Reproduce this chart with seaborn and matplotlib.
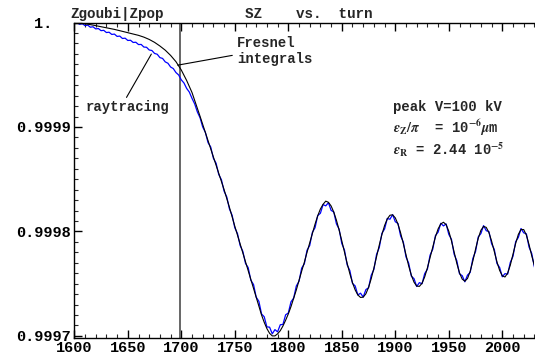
import numpy as np
import pandas as pd
import seaborn as sns
import matplotlib.pyplot as plt
from matplotlib.ticker import MultipleLocator

# ---- data ----
turns = np.arange(1600, 2030.01, 2.5)

sz_fresnel = [
    1.0, 0.9999997, 0.9999995, 0.9999992, 0.9999988, 0.9999984, 0.999998, 0.9999975,
    0.999997, 0.9999965, 0.999996, 0.9999955, 0.999995, 0.9999945, 0.999994, 0.9999934,
    0.9999928, 0.9999922, 0.9999915, 0.9999909, 0.9999902, 0.9999896, 0.999989, 0.9999884,
    0.9999877, 0.9999869, 0.999986, 0.9999849, 0.9999838, 0.9999824, 0.999981, 0.9999793,
    0.9999775, 0.9999755, 0.9999735, 0.999971, 0.9999685, 0.9999655, 0.9999625, 0.9999585,
    0.9999545, 0.9999495, 0.9999445, 0.9999388, 0.999933, 0.9999255, 0.999918, 0.9999103,
    0.9999025, 0.9998948, 0.999887, 0.9998793, 0.9998715, 0.9998638, 0.999856, 0.999848,
    0.99984, 0.9998315, 0.999823, 0.999814, 0.999805, 0.9997965, 0.999788, 0.9997795,
    0.999771, 0.9997625, 0.999754, 0.9997455, 0.999737, 0.9997285, 0.99972, 0.999713,
    0.999707, 0.9997025, 0.9997, 0.9997, 0.999702, 0.999705, 0.9997095, 0.999715,
    0.999721, 0.999728, 0.999736, 0.999744, 0.999753, 0.999762, 0.9997705, 0.99978,
    0.999789, 0.999798, 0.999807, 0.999815, 0.9998215, 0.999826, 0.999829, 0.9998279,
    0.9998244, 0.9998185, 0.9998107, 0.9998013, 0.999791, 0.9997802, 0.9997695, 0.9997596,
    0.9997509, 0.999744, 0.9997392, 0.9997368, 0.9997371, 0.9997403, 0.9997464, 0.9997548,
    0.9997649, 0.9997759, 0.9997869, 0.9997971, 0.9998057, 0.999812, 0.9998155, 0.9998159,
    0.999813, 0.999807, 0.9997985, 0.9997883, 0.9997775, 0.999767, 0.9997581, 0.9997514,
    0.9997477, 0.9997474, 0.9997504, 0.9997566, 0.9997651, 0.9997751, 0.9997853, 0.9997948,
    0.9998024, 0.9998072, 0.9998088, 0.9998065, 0.9998002, 0.999791, 0.9997801, 0.9997694,
    0.9997604, 0.9997544, 0.9997524, 0.999755, 0.9997619, 0.9997718, 0.999783, 0.9997934,
    0.9998011, 0.9998048, 0.9998039, 0.9997989, 0.9997908, 0.9997809, 0.9997709, 0.9997627,
    0.9997575, 0.9997564, 0.9997601, 0.9997678, 0.9997781, 0.9997886, 0.9997972, 0.9998019,
    0.9998018, 0.9997965, 0.9997874, 0.9997768, 0.9997673,
]

sz_raytracing = [
    1.0, 0.9999998, 0.9999983, 0.9999989, 0.999997, 0.9999975, 0.9999955, 0.9999959,
    0.9999939, 0.9999942, 0.9999922, 0.9999925, 0.9999904, 0.9999907, 0.9999886, 0.9999889,
    0.9999867, 0.999987, 0.9999847, 0.999985, 0.9999828, 0.999983, 0.9999809, 0.9999811,
    0.9999789, 0.999979, 0.9999765, 0.9999763, 0.9999737, 0.9999732, 0.9999704, 0.9999696,
    0.9999664, 0.9999656, 0.9999623, 0.999961, 0.9999574, 0.9999559, 0.9999521, 0.9999498,
    0.9999451, 0.9999421, 0.9999369, 0.9999334, 0.9999274, 0.9999221, 0.9999144, 0.9999089,
    0.9999, 0.9998948, 0.999885, 0.9998808, 0.99987, 0.9998653, 0.9998545, 0.9998495,
    0.9998385, 0.999833, 0.9998215, 0.9998155, 0.9998035, 0.999798, 0.9997865, 0.999781,
    0.9997694, 0.9997654, 0.9997533, 0.9997492, 0.9997371, 0.9997331, 0.999721, 0.9997183,
    0.9997086, 0.9997084, 0.999702, 0.999706, 0.9997039, 0.9997107, 0.999711, 0.9997202,
    0.9997219, 0.9997326, 0.9997362, 0.9997478, 0.9997523, 0.9997649, 0.999769, 0.999782,
    0.9997865, 0.9997991, 0.9998036, 0.9998152, 0.9998174, 0.9998257, 0.9998245, 0.9998275,
    0.9998202, 0.9998186, 0.9998072, 0.9998022, 0.9997884, 0.9997822, 0.999768, 0.9997626,
    0.9997503, 0.9997478, 0.9997392, 0.9997409, 0.9997372, 0.9997443, 0.9997461, 0.999758,
    0.9997636, 0.9997781, 0.9997845, 0.9997982, 0.9998024, 0.9998124, 0.9998117, 0.9998161,
    0.9998093, 0.9998076, 0.9997956, 0.9997899, 0.9997756, 0.9997696, 0.9997572, 0.9997548,
    0.9997473, 0.999751, 0.9997499, 0.9997597, 0.9997638, 0.9997773, 0.999783, 0.999796,
    0.9997993, 0.9998078, 0.9998053, 0.9998072, 0.9997972, 0.9997924, 0.9997781, 0.9997719,
    0.9997594, 0.9997577, 0.9997518, 0.9997582, 0.9997608, 0.9997742, 0.9997808, 0.9997947,
    0.999798, 0.9998056, 0.9998007, 0.9997999, 0.9997882, 0.9997829, 0.9997693, 0.9997655,
    0.9997566, 0.9997596, 0.9997591, 0.9997704, 0.9997762, 0.9997902, 0.9997943, 0.9998028,
    0.9997987, 0.9997977, 0.999785, 0.9997789, 0.9997659,
]

x_ticks = [1600, 1650, 1700, 1750, 1800, 1850, 1900, 1950, 2000]
y_ticks = [0.9997, 0.9998, 0.9999, 1.0]
y_tick_labels = ["0.9997", "0.9998", "0.9999", "1.  "]
marker_turn = 1698.5

# ---- style ----
sns.set_style("ticks")
plt.rcParams['font.family'] = ['Liberation Mono', 'DejaVu Sans']
plt.rcParams['font.weight'] = 'bold'
plt.rcParams['mathtext.fontset'] = 'stix'

fig = plt.figure(figsize=(5.35, 3.6), dpi=100)
ax = fig.add_axes([74.3 / 535, 22 / 360, (534.4 - 74.3) / 535, (337.5 - 22) / 360])

df_f = pd.DataFrame({"turn": turns, "SZ": sz_fresnel})
df_r = pd.DataFrame({"turn": turns, "SZ": sz_raytracing})

sns.lineplot(data=df_r, x="turn", y="SZ", color="#0000ff", lw=0.9,
             estimator=None, sort=False, ax=ax)
sns.lineplot(data=df_f, x="turn", y="SZ", color="black", lw=0.8,
             estimator=None, sort=False, ax=ax)

ax.axvline(marker_turn, color="#666666", lw=1.4, zorder=1)

ax.set_xlim(1600, 2030)
ax.set_ylim(0.999698, 1.0)
ax.set_xlabel("")
ax.set_ylabel("")

ax.set_xticks(x_ticks)
ax.set_xticklabels([str(v) for v in x_ticks], fontsize=11, fontweight='bold')
ax.set_yticks(y_ticks)
ax.set_yticklabels(y_tick_labels, fontsize=11, fontweight='bold')
ax.xaxis.set_minor_locator(MultipleLocator(10))
ax.yaxis.set_minor_locator(MultipleLocator(0.00001))

ax.tick_params(axis='both', which='major', direction='in', length=5.5, width=1,
               top=True, right=False, pad=2.5, colors='black')
ax.tick_params(axis='both', which='minor', direction='in', length=3, width=0.8,
               top=True, right=False)
ax.spines['right'].set_visible(False)
for s in ['left', 'bottom', 'top']:
    ax.spines[s].set_color('black')
    ax.spines[s].set_linewidth(1.0)

# ---- texts ----
fig.text(70 / 535, 1 - 14 / 360, "Zgoubi|Zpop", fontsize=10.3, fontweight='bold',
         ha='left', va='center')
fig.text(245 / 535, 1 - 14 / 360, "SZ    vs.  turn", fontsize=10.3, fontweight='bold',
         ha='left', va='center')

ax.text(1752, 0.9999728, "Fresnel\nintegrals", fontsize=10, fontweight='bold',
        ha='left', va='center', linespacing=1.25)
ax.annotate("", xy=(1694.1, 0.9999587), xytext=(1750.2, 0.999969),
            arrowprops=dict(arrowstyle='-', color='black', lw=0.8))

ax.text(1649.3, 0.9999193, "raytracing", fontsize=10, fontweight='bold',
        ha='center', va='center')
ax.annotate("", xy=(1673.3, 0.9999721), xytext=(1647.5, 0.999926),
            arrowprops=dict(arrowstyle='-', color='black', lw=0.8))

ax.text(1897.9, 0.9999193, "peak V=100 kV", fontsize=10, fontweight='bold',
        ha='left', va='center')
ax.text(1897.9, 0.9998992, r"$\varepsilon_\mathbf{Z}/\pi$  = 10$^{-6}\mu$m",
        fontsize=10, fontweight='bold', ha='left', va='center')
ax.text(1897.9, 0.9998782, r"$\varepsilon_\mathbf{R}$ = 2.44 10$^{-5}$",
        fontsize=10, fontweight='bold', ha='left', va='center')

fig.savefig("out.png", dpi=100)
